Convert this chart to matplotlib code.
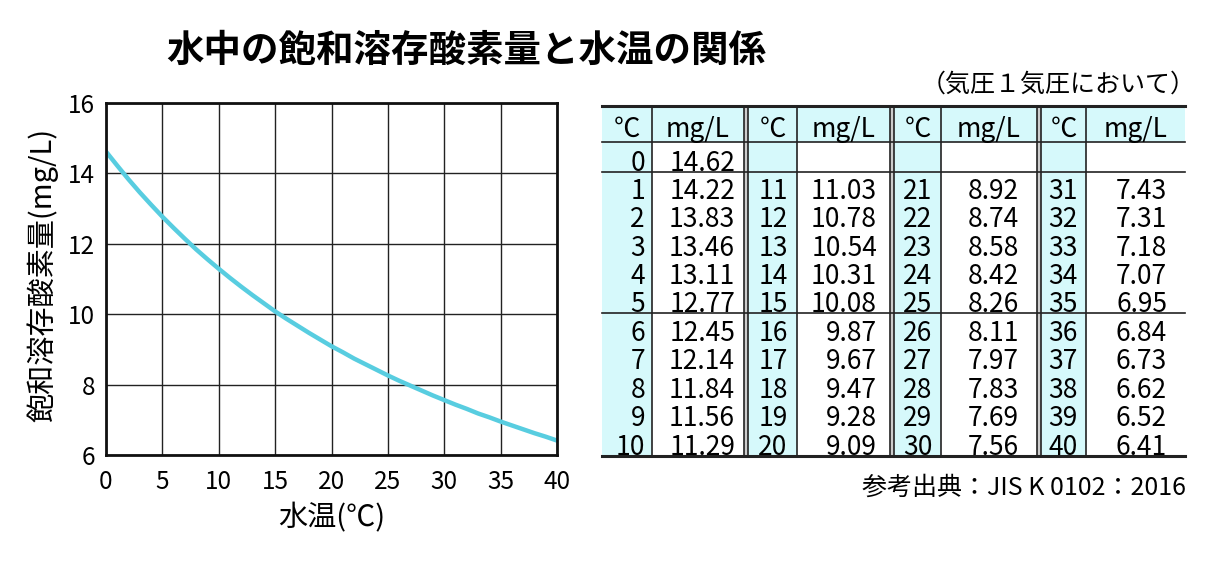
import matplotlib
matplotlib.use('Agg')
from matplotlib import pyplot as plt
from matplotlib.patches import Rectangle

plt.rcParams['font.family'] = ['Noto Sans CJK JP', 'DejaVu Sans']

# water temperature (deg C) and saturated dissolved oxygen (mg/L)
temps = list(range(0, 41))
oxygen = [14.62,
          14.22, 13.83, 13.46, 13.11, 12.77, 12.45, 12.14, 11.84, 11.56, 11.29,
          11.03, 10.78, 10.54, 10.31, 10.08, 9.87, 9.67, 9.47, 9.28, 9.09,
          8.92, 8.74, 8.58, 8.42, 8.26, 8.11, 7.97, 7.83, 7.69, 7.56,
          7.43, 7.31, 7.18, 7.07, 6.95, 6.84, 6.73, 6.62, 6.52, 6.41]

x_ticks = [0, 5, 10, 15, 20, 25, 30, 35, 40]
y_ticks = [6, 8, 10, 12, 14, 16]

title = '水中の飽和溶存酸素量と水温の関係'
subtitle = '（気圧１気圧において）'
source = '参考出典：JIS K 0102：2016'
col_heads = ['℃', 'mg/L']

W, H = 1225, 565
fig = plt.figure(figsize=(W / 100, H / 100), dpi=100)

# ---- line chart ----
ax = fig.add_axes([106 / W, 1 - 455 / H, 451 / W, 352 / H])
ax.plot(temps, oxygen, color='#58cde0', lw=3.2)
ax.set_xlim(0, 40)
ax.set_ylim(6, 16)
ax.set_xticks(x_ticks)
ax.set_yticks(y_ticks)
ax.grid(True, color='#222222', lw=1)
for s in ax.spines.values():
    s.set_linewidth(2)
    s.set_color('#111111')
ax.tick_params(length=0, labelsize=17.5)
ax.tick_params(axis='x', pad=10)
ax.tick_params(axis='y', pad=8)

fig.text(43 / W, 1 - 275 / H, '飽和溶存酸素量(mg/L)', rotation=90,
         ha='center', va='center', fontsize=21)
fig.text(332 / W, 1 - 518 / H, '水温(℃)', ha='center', va='center', fontsize=21)
fig.text(466 / W, 1 - 50 / H, title, ha='center', va='center',
         fontsize=27, fontweight='bold')
fig.text(1196 / W, 1 - 85 / H, subtitle, ha='right', va='center', fontsize=18)
fig.text(1186 / W, 1 - 488 / H, source, ha='right', va='center', fontsize=18)

# ---- table (pixel coordinates) ----
tax = fig.add_axes([0, 0, 1, 1])
tax.set_xlim(0, W)
tax.set_ylim(H, 0)
tax.axis('off')

cyan = '#d6f9fb'
g_left = [602, 748, 894, 1041]
g_div = [652, 797, 941, 1086]
g_right = [744, 890, 1037, 1185]
top, head_b, row0_b, mid_b, bot = 106, 142, 172, 313, 456

# shading
tax.add_patch(Rectangle((602, top), 1185 - 602, head_b - top, color=cyan, lw=0))
for gl, gd in zip(g_left, g_div):
    tax.add_patch(Rectangle((gl, top), gd - gl, bot - top, color=cyan, lw=0))

# double lines between groups
for gr, gl in zip(g_right[:-1], g_left[1:]):
    tax.add_patch(Rectangle((gr, top), gl - gr, bot - top, facecolor='#cccccc',
                            edgecolor='none'))
    tax.plot([gr, gr], [top, bot], color='#222222', lw=1.2)
    tax.plot([gl, gl], [top, bot], color='#222222', lw=1.2)
for gd in g_div:
    tax.plot([gd, gd], [top, bot], color='#222222', lw=1.2)

tax.plot([602, 1185], [top, top], color='#222222', lw=2.2)
tax.plot([602, 1185], [bot, bot], color='#222222', lw=2.2)
for yy in [head_b, row0_b, mid_b]:
    tax.plot([602, 1185], [yy, yy], color='#222222', lw=1.2)

# headers
for gl, gd, gr in zip(g_left, g_div, g_right):
    tax.text((gl + gd) / 2, 137, col_heads[0], ha='center', va='baseline', fontsize=19)
    tax.text((gd + gr) / 2, 137, col_heads[1], ha='center', va='baseline', fontsize=19)

# row bottoms (baseline positions)
row_bottoms = [row0_b]
for k in range(1, 6):
    row_bottoms.append(row0_b + k * (mid_b - row0_b) / 5)
for k in range(1, 6):
    row_bottoms.append(mid_b + k * (bot - mid_b) / 5)

deg_x = [645, 773, 918, 1063]
deg_ha = ['right', 'center', 'center', 'center']
val_x = [735, 877, 1019, 1167]

for t, v in zip(temps, oxygen):
    if t == 0:
        g, r = 0, 0
    else:
        g = (t - 1) // 10
        r = t - g * 10
    yb = row_bottoms[r] - 1
    tax.text(deg_x[g], yb, str(t), ha=deg_ha[g], va='baseline', fontsize=19)
    tax.text(val_x[g], yb, '%.2f' % v, ha='right', va='baseline', fontsize=19)

fig.savefig('out.png', dpi=100)
